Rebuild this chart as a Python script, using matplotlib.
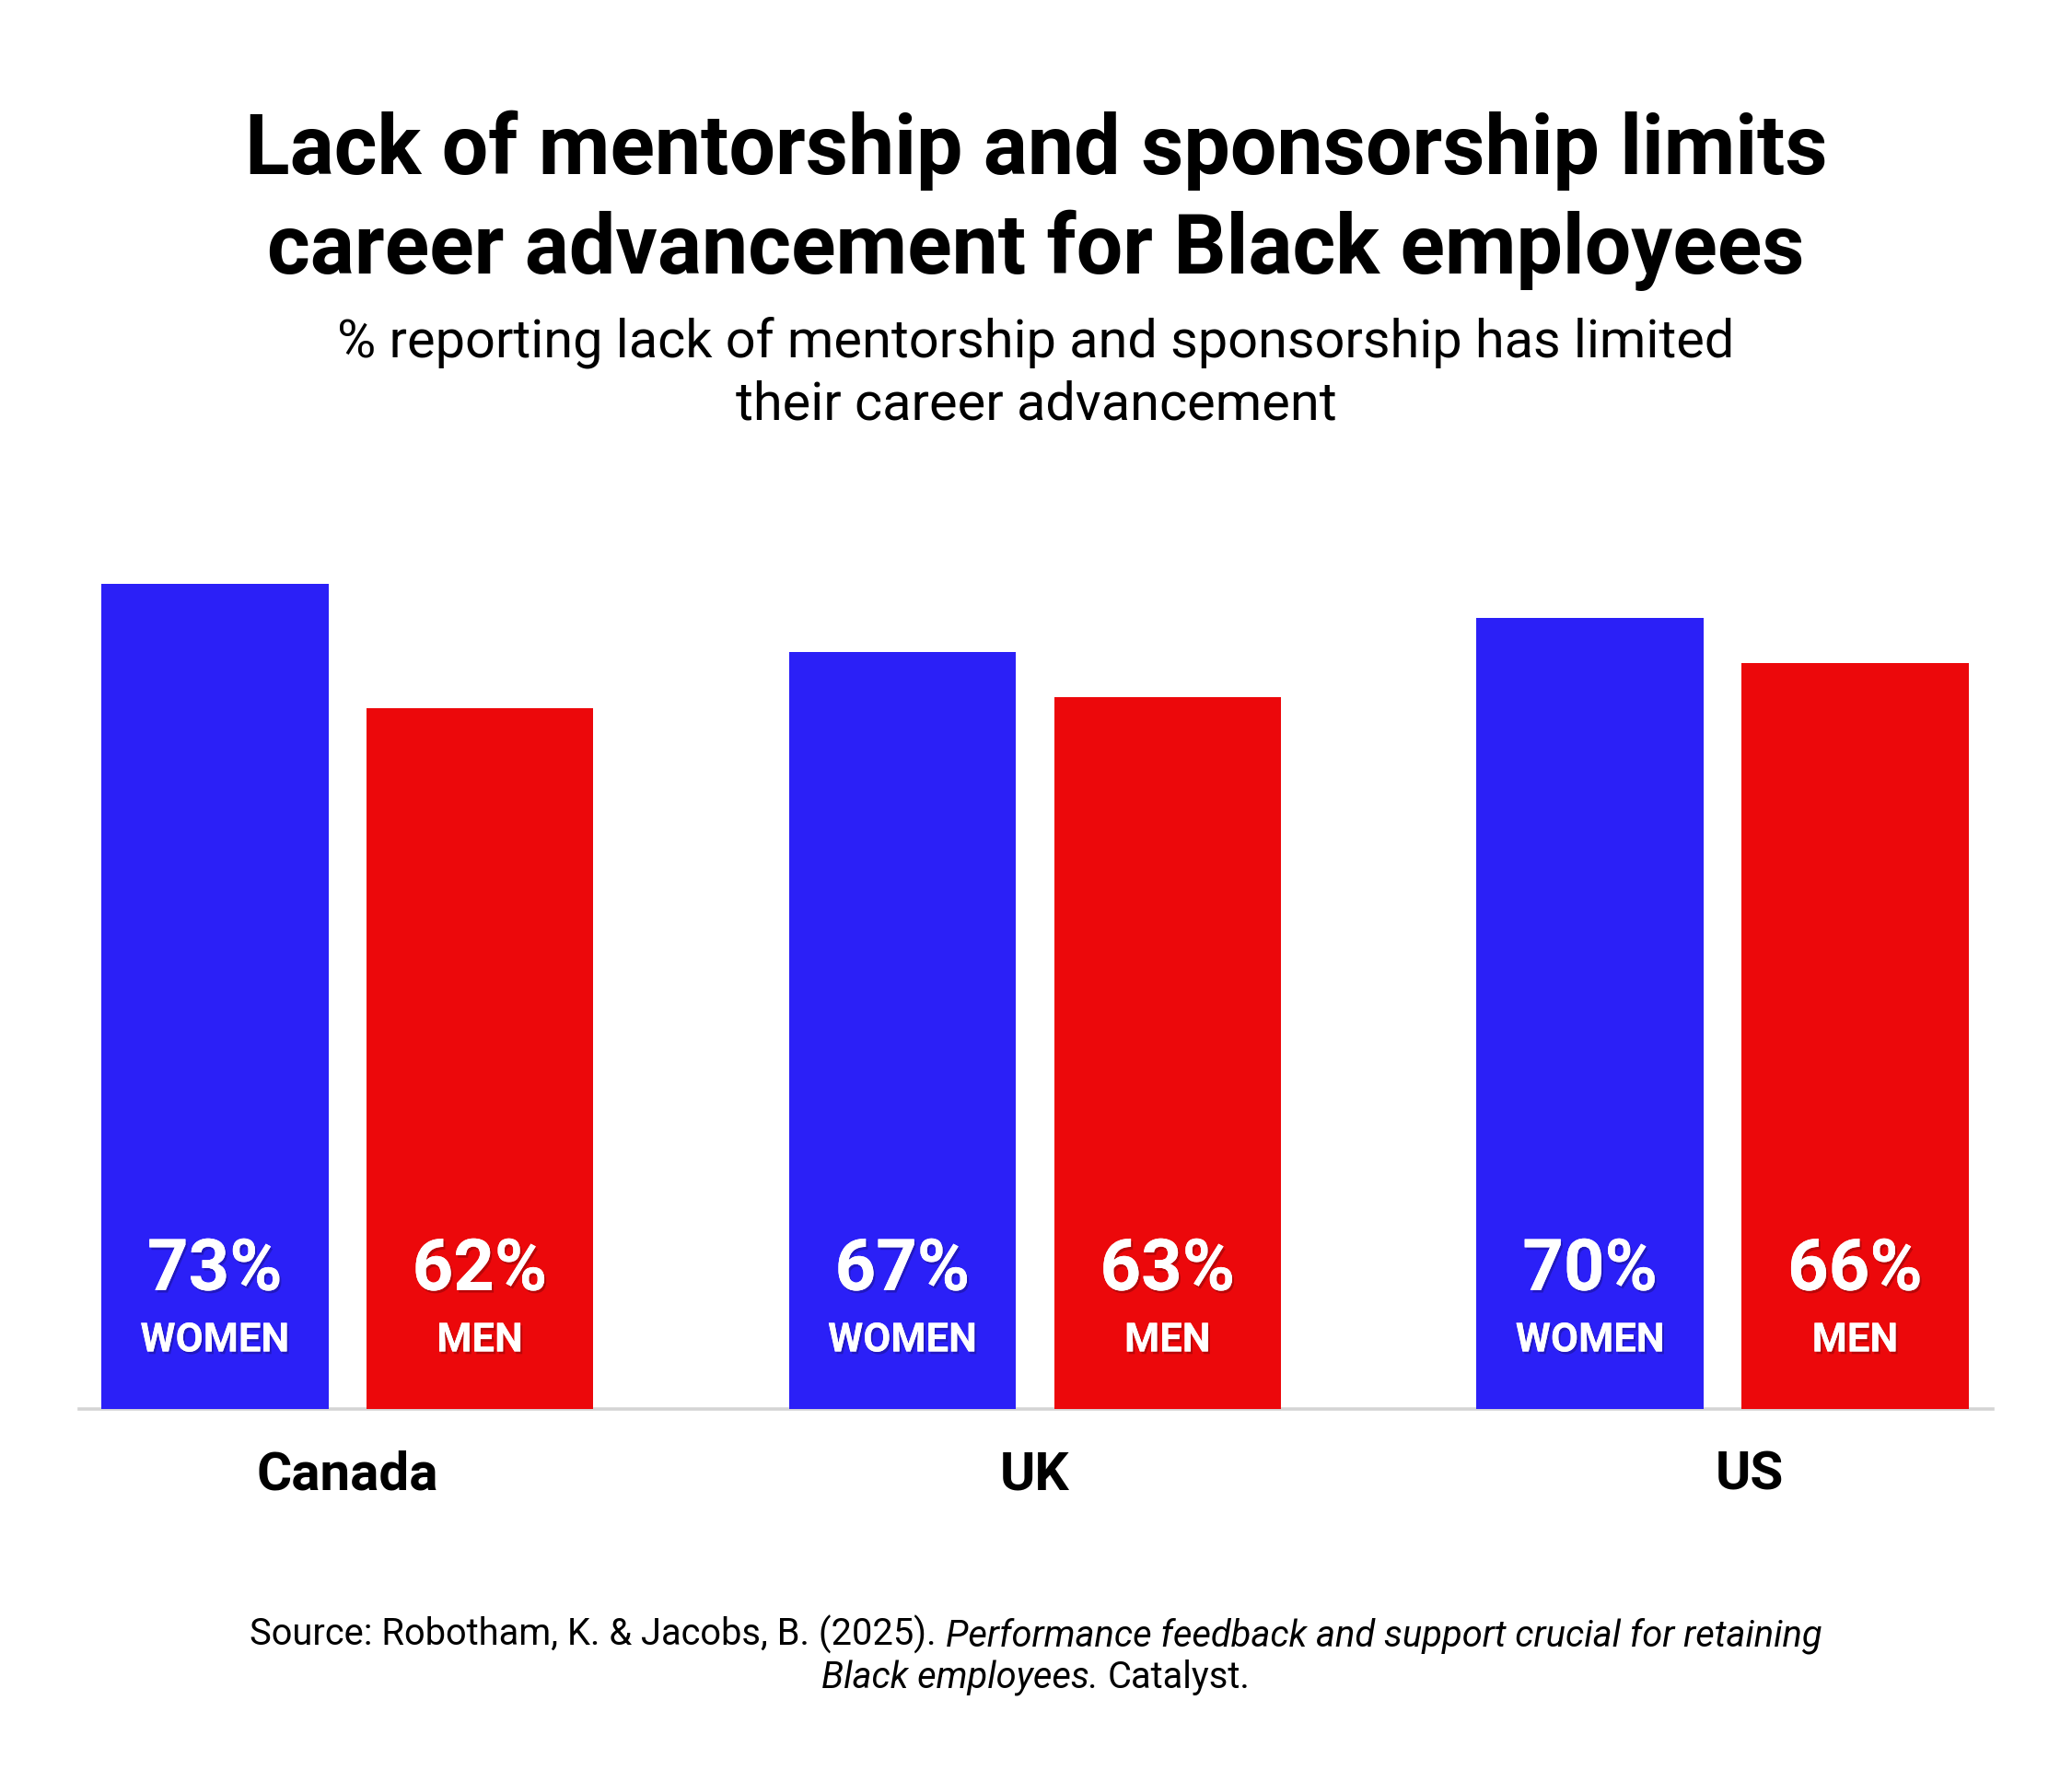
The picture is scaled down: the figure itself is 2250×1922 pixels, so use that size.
import matplotlib
matplotlib.use("Agg")
import matplotlib.pyplot as plt
import matplotlib.patheffects as pe
import matplotlib.transforms as mtransforms
import numpy as np

countries = ["Canada", "UK", "US"]
women = [73, 67, 70]
men = [62, 63, 66]
series_labels = ["WOMEN", "MEN"]

title_lines = ["Lack of mentorship and sponsorship limits",
               "career advancement for Black employees"]
subtitle_lines = ["% reporting lack of mentorship and sponsorship has limited",
                  "their career advancement"]
source_line1 = [("Source: Robotham, K. & Jacobs, B. (2025). ", "normal"),
                ("Performance feedback and support crucial for retaining", "italic")]
source_line2 = [("Black employees.", "italic"), (" Catalyst.", "normal")]

BLUE = "#2b20f7"
RED = "#ec080b"
FONT = "Roboto"

plt.rcParams["font.family"] = [FONT, "DejaVu Sans"]

W, H = 2250, 1922
DPI = 100
fig = plt.figure(figsize=(W / DPI, H / DPI), dpi=DPI)
fig.patch.set_facecolor("white")

# axes geometry (pixel based)
ax_left, ax_right = 86, 2164
base_y = 1530
px_per_unit = 12.27
ymax = 80
ax_h = ymax * px_per_unit
ax = fig.add_axes([ax_left / W, (H - base_y) / H, (ax_right - ax_left) / W, ax_h / H])

x = np.arange(len(countries))
bw = 0.33
off = 0.1927
ax.bar(x - off, women, width=bw, color=BLUE, zorder=2)
ax.bar(x + off, men, width=bw, color=RED, zorder=2)
ax.set_xlim(-0.39, 2.393)
ax.set_ylim(0, ymax)

for s in ["top", "right", "left"]:
    ax.spines[s].set_visible(False)
ax.spines["bottom"].set_color("#d4d4d4")
ax.spines["bottom"].set_linewidth(2.6)
ax.spines["bottom"].set_zorder(1)
ax.set_yticks([])
ax.set_xticks(x)
ax.set_xticklabels(countries, fontsize=42, fontweight="bold", color="black")
ax.tick_params(axis="x", length=0, pad=32)
# the last category label sits slightly right of its group centre in the original
lbl = ax.get_xticklabels()[-1]
lbl.set_transform(lbl.get_transform() + mtransforms.ScaledTranslation(29 / DPI, 0, fig.dpi_scale_trans))

shadow = [pe.withSimplePatchShadow(offset=(1.5, -2), shadow_rgbFace="black", alpha=0.22), pe.Normal()]

for vals, sign, lab in [(women, -1, series_labels[0]), (men, 1, series_labels[1])]:
    for xi, v in zip(x, vals):
        xc = xi + sign * off
        ax.annotate(f"{v}%", xy=(xc, 0), xytext=(0, 93), textcoords="offset points",
                    ha="center", va="baseline", fontsize=56, fontweight="bold",
                    color="white", path_effects=shadow, zorder=5)
        ax.annotate(lab, xy=(xc, 0), xytext=(0, 45), textcoords="offset points",
                    ha="center", va="baseline", fontsize=31.4, fontweight="bold",
                    color="white", path_effects=shadow, zorder=5)

# title and subtitle
fig.text(0.5, 1 - 189 / H, title_lines[0], ha="center", va="baseline",
         fontsize=64.5, fontweight="bold", color="black")
fig.text(0.5, 1 - 297 / H, title_lines[1], ha="center", va="baseline",
         fontsize=64.5, fontweight="bold", color="black")
fig.text(0.5, 1 - 387 / H, subtitle_lines[0], ha="center", va="baseline",
         fontsize=41.5, color="black")
fig.text(0.5, 1 - 455 / H, subtitle_lines[1], ha="center", va="baseline",
         fontsize=41.5, color="black")

# source lines with mixed styles
renderer = fig.canvas.get_renderer()
SRC_FS = 28.7


def text_width(s, style):
    t = fig.text(0, 0, s, fontsize=SRC_FS, style=style)
    w = t.get_window_extent(renderer).width
    t.remove()
    return w


def piece_width(s, style):
    core = s.strip(" ")
    nlead = len(s) - len(s.lstrip(" "))
    ntrail = len(s) - len(s.rstrip(" "))
    sp = text_width("x x", style) - text_width("xx", style)
    return text_width(core, style) + (nlead + ntrail) * sp, nlead * sp, core


def draw_mixed(pieces, y_px):
    info = [piece_width(s, st) for s, st in pieces]
    total = sum(i[0] for i in info)
    xpix = W / 2 - total / 2
    for (s, st), (w, lead, core) in zip(pieces, info):
        fig.text((xpix + lead) / W, 1 - y_px / H, core, fontsize=SRC_FS, style=st,
                 ha="left", va="baseline", color="black")
        xpix += w


draw_mixed(source_line1, 1787)
draw_mixed(source_line2, 1833)

fig.savefig("out.png", dpi=DPI, facecolor="white")
